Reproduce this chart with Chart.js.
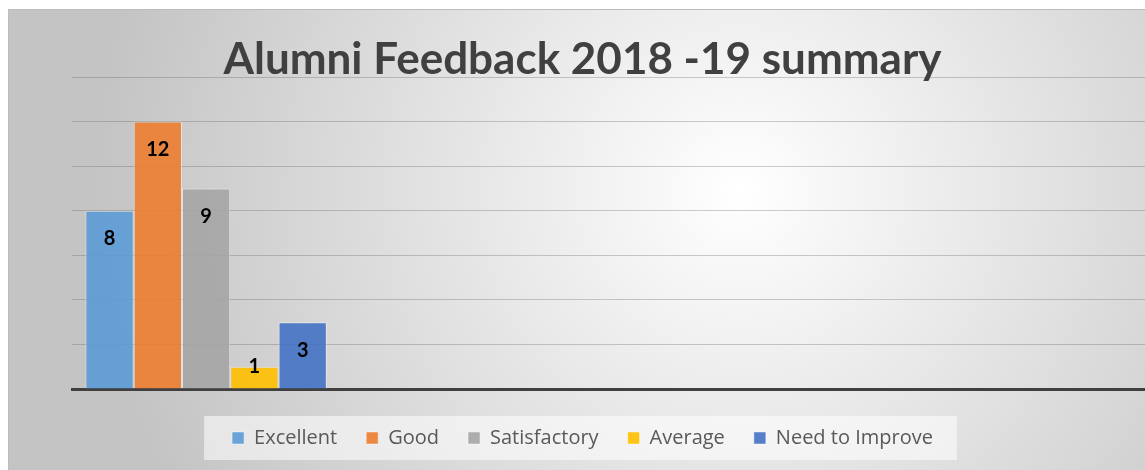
<!DOCTYPE html>
<html><head><meta charset="utf-8">
<script src="https://cdn.jsdelivr.net/npm/chart.js@4.4.1/dist/chart.umd.min.js"></script>
<style>html,body{margin:0;padding:0;background:#fff;overflow:hidden}#wrap{width:1145px;height:470px}</style>
</head><body><div id="wrap"><canvas id="c" width="1145" height="470"></canvas></div>
<script>
const categories = ['2018-19', '', '', ''];
const seriesNames = ['Excellent', 'Good', 'Satisfactory', 'Average', 'Need to Improve'];
const excellent = [8];
const good = [12];
const satisfactory = [9];
const average = [1];
const needToImprove = [3];
const yMin = 0, yMax = 14, yStep = 2;
const titleText = 'Alumni Feedback 2018 -19 summary';

const seriesValues = [excellent, good, satisfactory, average, needToImprove];
const seriesColors = ['rgba(91,155,213,0.9)', 'rgba(237,125,49,0.9)', 'rgba(165,165,165,0.9)', 'rgba(255,192,0,0.9)', 'rgba(68,114,196,0.9)'];

const bgPlugin = {
  id: 'bg',
  beforeDraw(chart) {
    const ctx = chart.ctx, w = chart.width, h = chart.height;
    ctx.save();
    ctx.fillStyle = '#ffffff';
    ctx.fillRect(0, 0, w, h);
    const g = ctx.createRadialGradient(740, 190, 0, 740, 190, 640);
    g.addColorStop(0, '#ffffff');
    g.addColorStop(1, '#c4c4c4');
    ctx.fillStyle = g;
    ctx.fillRect(8, 9, w - 8, h - 9);
    ctx.strokeStyle = '#bdbdbd';
    ctx.lineWidth = 1;
    ctx.strokeRect(8.5, 9.5, w + 10, h + 10);
    const lg = chart.legend;
    if (lg && lg.legendHitBoxes && lg.legendHitBoxes.length) {
      const hb = lg.legendHitBoxes;
      const first = hb[0], last = hb[hb.length - 1];
      const x0 = first.left - 28, x1 = last.left + last.width + 24;
      const yc = first.top + first.height / 2;
      ctx.fillStyle = 'rgba(255,255,255,0.55)';
      ctx.fillRect(x0, yc - 22, x1 - x0, 44);
    }
    ctx.restore();
  }
};

const labelPlugin = {
  id: 'valueLabels',
  afterDatasetsDraw(chart) {
    const ctx = chart.ctx;
    ctx.save();
    ctx.font = 'bold 20px Lato';
    ctx.fillStyle = '#000000';
    ctx.textAlign = 'center';
    ctx.textBaseline = 'middle';
    chart.data.datasets.forEach((ds, i) => {
      const meta = chart.getDatasetMeta(i);
      meta.data.forEach((bar, j) => {
        const v = ds.data[j];
        if (v === null || v === undefined) return;
        const y = Math.min(bar.y + 28, bar.base - 22);
        ctx.fillText(String(v), bar.x, y);
      });
    });
    ctx.restore();
  }
};

new Chart(document.getElementById('c'), {
  type: 'bar',
  data: {
    labels: categories,
    datasets: seriesNames.map((name, i) => ({
      label: name,
      data: seriesValues[i],
      backgroundColor: seriesColors[i],
      borderColor: 'rgba(255,255,255,0.45)',
      borderWidth: 1,
      categoryPercentage: 0.9,
      barPercentage: 1.0
    }))
  },
  options: {
    responsive: false,
    animation: false,
    layout: { padding: { left: 20, right: 0, top: 0, bottom: 12 } },
    plugins: {
      title: {
        display: true,
        text: titleText,
        color: '#404040',
        font: { family: 'Lato', size: 44, weight: 'bold', lineHeight: 0.75 },
        padding: { top: 43, bottom: 1 }
      },
      legend: {
        position: 'bottom',
        labels: {
          boxWidth: 12,
          boxHeight: 12,
          padding: 29,
          color: '#595959',
          font: { family: 'Open Sans', size: 20 }
        }
      },
      tooltip: { enabled: false }
    },
    scales: {
      x: {
        afterFit(scale) { scale.height += 10; },
        grid: { display: false, drawTicks: false },
        ticks: { display: false },
        border: { display: true, color: '#404040', width: 3 }
      },
      y: {
        min: yMin,
        max: yMax,
        afterFit(scale) { scale.width = 52; },
        ticks: { display: false, stepSize: yStep },
        grid: { color: 'rgba(90,90,90,0.3)', lineWidth: 1, drawTicks: false },
        border: { display: false }
      }
    }
  },
  plugins: [bgPlugin, labelPlugin]
});
</script></body></html>
